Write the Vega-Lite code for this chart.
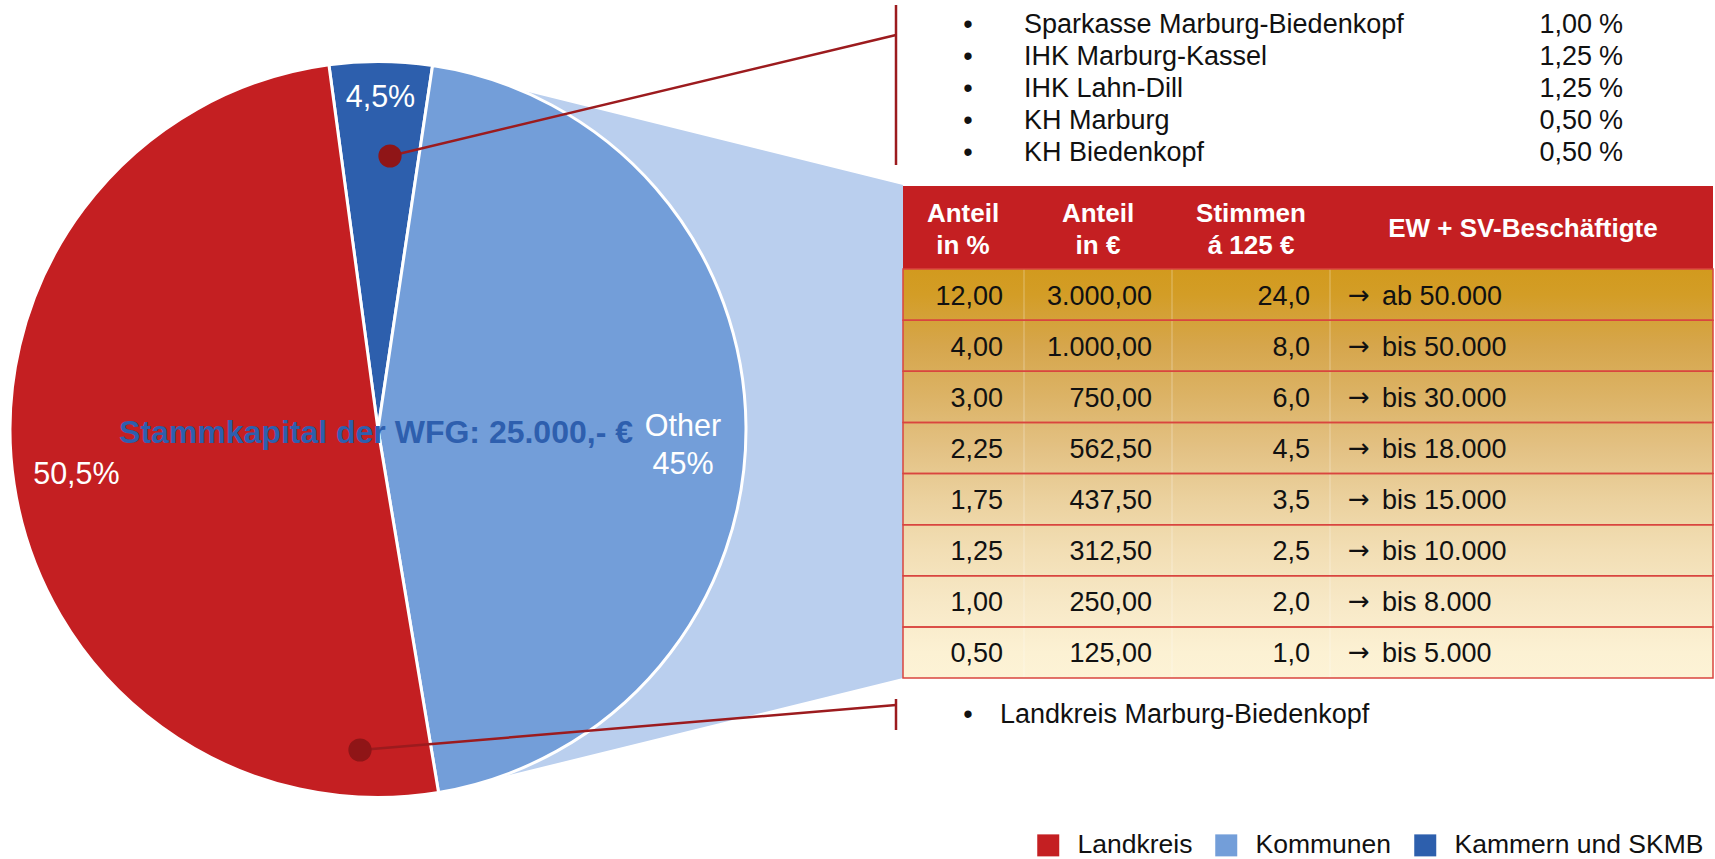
{
  "$schema": "https://vega.github.io/schema/vega-lite/v6.json",
  "width": 756,
  "height": 859,
  "autosize": {"type": "none"},
  "padding": {"left": 0, "top": 0, "right": 959, "bottom": 0},
  "background": "white",
  "config": {
    "view": {"stroke": null},
    "axis": {"disable": true},
    "font": "Liberation Sans",
    "locale": {"number": {"decimal": ",", "thousands": ".", "grouping": [3], "currency": ["", " €"]}}
  },
  "datasets": {
    "shares": [
      {"group": "Kammern und SKMB", "value": 4.5, "label": "4,5%"},
      {"group": "Kommunen", "value": 45, "label": "Other\n45%"},
      {"group": "Landkreis", "value": 50.5, "label": "50,5%"}
    ],
    "tiers": [
      {"pct": 12, "eur": 3000, "votes": 24, "ew": "ab 50.000"},
      {"pct": 4, "eur": 1000, "votes": 8, "ew": "bis 50.000"},
      {"pct": 3, "eur": 750, "votes": 6, "ew": "bis 30.000"},
      {"pct": 2.25, "eur": 562.5, "votes": 4.5, "ew": "bis 18.000"},
      {"pct": 1.75, "eur": 437.5, "votes": 3.5, "ew": "bis 15.000"},
      {"pct": 1.25, "eur": 312.5, "votes": 2.5, "ew": "bis 10.000"},
      {"pct": 1, "eur": 250, "votes": 2, "ew": "bis 8.000"},
      {"pct": 0.5, "eur": 125, "votes": 1, "ew": "bis 5.000"}
    ],
    "members": [
      {"name": "Sparkasse Marburg-Biedenkopf", "share": 1.0},
      {"name": "IHK Marburg-Kassel", "share": 1.25},
      {"name": "IHK Lahn-Dill", "share": 1.25},
      {"name": "KH Marburg", "share": 0.5},
      {"name": "KH Biedenkopf", "share": 0.5}
    ]
  },
  "resolve": {"scale": {"y": "independent"}},
  "layer": [
    {
      "layer": [
        {
          "data": {"values": [{}]},
          "mark": {"type": "point", "shape": "M-0.58875,-0.9075L0.58875,-0.615L0.58875,0.6175L-0.58875,0.9075Z", "size": 640000, "filled": true, "fill": "#BACFEE", "opacity": 1, "strokeWidth": 0},
          "encoding": {
            "x": {"datum": 667.5, "type": "quantitative", "scale": {"domain": [0, 756], "nice": false, "zero": false}},
            "y": {"datum": 431, "type": "quantitative", "scale": {"domain": [0, 859], "nice": false, "zero": false, "reverse": true}}
          }
        },
        {
          "data": {"name": "shares"},
          "mark": {"type": "arc", "outerRadius": 368, "stroke": "white", "strokeWidth": 3},
          "encoding": {
            "theta": {"field": "value", "type": "quantitative", "stack": true, "scale": {"range": [-0.13387, 6.14932]}},
            "order": {"field": "group", "type": "nominal", "sort": "ascending"},
            "color": {
              "field": "group", "type": "nominal",
              "scale": {"domain": ["Landkreis", "Kommunen", "Kammern und SKMB"], "range": ["#C41F22", "#739ED9", "#2D5FAD"]},
              "legend": {"orient": "none", "legendX": 1035, "legendY": 832, "direction": "horizontal", "title": null, "symbolType": "square", "symbolSize": 484, "symbolStrokeWidth": 0, "symbolOpacity": 1, "labelFontSize": 26.5, "labelFont": "Liberation Sans", "labelColor": "#111111", "labelOffset": 16, "columnPadding": 20, "labelLimit": 400, "padding": 0}
            }
          }
        },
        {
          "data": {"name": "shares"},
          "mark": {"type": "text", "radius": {"expr": "datum.group == 'Kammern und SKMB' ? 332 : 305"}, "fill": "white", "fontSize": 30.5, "lineBreak": "\n", "lineHeight": 38, "baseline": "middle", "align": "center"},
          "encoding": {
            "theta": {"field": "value", "type": "quantitative", "stack": true},
            "order": {"field": "group", "type": "nominal", "sort": "ascending"},
            "detail": {"field": "group", "type": "nominal"},
            "text": {"field": "label", "type": "nominal"}
          }
        },
        {
          "data": {"values": [{}]},
          "mark": {"type": "text", "fontSize": 32, "fontWeight": "bold", "fill": "#2E5FAE", "align": "center", "baseline": "alphabetic", "text": "Stammkapital der WFG: 25.000,- €"},
          "encoding": {"x": {"datum": 376, "type": "quantitative"}, "y": {"datum": 443, "type": "quantitative"}}
        },
        {
          "data": {"values": [{}]},
          "mark": {"type": "rule", "stroke": "#9C1B1E", "strokeWidth": 2.5},
          "encoding": {"x": {"datum": 390, "type": "quantitative"}, "y": {"datum": 156, "type": "quantitative"}, "x2": {"datum": 896}, "y2": {"datum": 35}}
        },
        {
          "data": {"values": [{}]},
          "mark": {"type": "rule", "stroke": "#9C1B1E", "strokeWidth": 2.5},
          "encoding": {"x": {"datum": 896, "type": "quantitative"}, "y": {"datum": 5, "type": "quantitative"}, "y2": {"datum": 165}}
        },
        {
          "data": {"values": [{}]},
          "mark": {"type": "rule", "stroke": "#9C1B1E", "strokeWidth": 2.5},
          "encoding": {"x": {"datum": 360, "type": "quantitative"}, "y": {"datum": 750, "type": "quantitative"}, "x2": {"datum": 896}, "y2": {"datum": 705}}
        },
        {
          "data": {"values": [{}]},
          "mark": {"type": "rule", "stroke": "#9C1B1E", "strokeWidth": 2.5},
          "encoding": {"x": {"datum": 896, "type": "quantitative"}, "y": {"datum": 699, "type": "quantitative"}, "y2": {"datum": 730}}
        },
        {
          "data": {"values": [{}]},
          "mark": {"type": "point", "shape": "circle", "size": 540, "filled": true, "fill": "#8F1517", "opacity": 1, "strokeWidth": 0},
          "encoding": {"x": {"datum": 390, "type": "quantitative"}, "y": {"datum": 156, "type": "quantitative"}}
        },
        {
          "data": {"values": [{}]},
          "mark": {"type": "point", "shape": "circle", "size": 540, "filled": true, "fill": "#8F1517", "opacity": 1, "strokeWidth": 0},
          "encoding": {"x": {"datum": 360, "type": "quantitative"}, "y": {"datum": 750, "type": "quantitative"}}
        },
        {
          "data": {"values": [{}]},
          "mark": {"type": "rect", "fill": {"gradient": "linear", "x1": 0, "y1": 0, "x2": 0, "y2": 1, "stops": [
            {"offset": 0, "color": "#D29A1E"},
            {"offset": 0.0625, "color": "#D39D26"},
            {"offset": 0.1875, "color": "#D6A64C"},
            {"offset": 0.3125, "color": "#DCB366"},
            {"offset": 0.4375, "color": "#E3C183"},
            {"offset": 0.5625, "color": "#EBD19E"},
            {"offset": 0.6875, "color": "#F2DEB4"},
            {"offset": 0.8125, "color": "#F7E8C6"},
            {"offset": 0.9375, "color": "#FCF1D3"},
            {"offset": 1, "color": "#FDF3D6"}
          ]}},
          "encoding": {"x": {"datum": 903, "type": "quantitative"}, "x2": {"datum": 1713}, "y": {"datum": 269, "type": "quantitative"}, "y2": {"datum": 678}}
        },
        {
          "data": {"values": [{}]},
          "mark": {"type": "rect", "fill": "#C41F22"},
          "encoding": {"x": {"datum": 903, "type": "quantitative"}, "x2": {"datum": 1713}, "y": {"datum": 186, "type": "quantitative"}, "y2": {"datum": 269}}
        },
        {
          "data": {"values": [{}]},
          "mark": {"type": "rule", "stroke": "white", "strokeOpacity": 0.35, "strokeWidth": 1},
          "encoding": {"x": {"datum": 1024, "type": "quantitative"}, "y": {"datum": 269, "type": "quantitative"}, "y2": {"datum": 678}}
        },
        {
          "data": {"values": [{}]},
          "mark": {"type": "rule", "stroke": "white", "strokeOpacity": 0.35, "strokeWidth": 1},
          "encoding": {"x": {"datum": 1172, "type": "quantitative"}, "y": {"datum": 269, "type": "quantitative"}, "y2": {"datum": 678}}
        },
        {
          "data": {"values": [{}]},
          "mark": {"type": "rule", "stroke": "white", "strokeOpacity": 0.35, "strokeWidth": 1},
          "encoding": {"x": {"datum": 1330, "type": "quantitative"}, "y": {"datum": 269, "type": "quantitative"}, "y2": {"datum": 678}}
        },
        {
          "data": {"values": [{}]},
          "mark": {"type": "text", "fontSize": 26, "fontWeight": "bold", "fill": "white", "align": "center", "baseline": "alphabetic", "lineHeight": 32, "text": ["Anteil", "in %"]},
          "encoding": {"x": {"datum": 963, "type": "quantitative"}, "y": {"datum": 222, "type": "quantitative"}}
        },
        {
          "data": {"values": [{}]},
          "mark": {"type": "text", "fontSize": 26, "fontWeight": "bold", "fill": "white", "align": "center", "baseline": "alphabetic", "lineHeight": 32, "text": ["Anteil", "in €"]},
          "encoding": {"x": {"datum": 1098, "type": "quantitative"}, "y": {"datum": 222, "type": "quantitative"}}
        },
        {
          "data": {"values": [{}]},
          "mark": {"type": "text", "fontSize": 26, "fontWeight": "bold", "fill": "white", "align": "center", "baseline": "alphabetic", "lineHeight": 32, "text": ["Stimmen", "á 125 €"]},
          "encoding": {"x": {"datum": 1251, "type": "quantitative"}, "y": {"datum": 222, "type": "quantitative"}}
        },
        {
          "data": {"values": [{}]},
          "mark": {"type": "text", "fontSize": 26, "fontWeight": "bold", "fill": "white", "align": "center", "baseline": "alphabetic", "text": "EW + SV-Beschäftigte"},
          "encoding": {"x": {"datum": 1523, "type": "quantitative"}, "y": {"datum": 237, "type": "quantitative"}}
        },
        {
          "data": {"values": [{}]},
          "mark": {"type": "text", "fontSize": 27, "fill": "#111111", "align": "center", "baseline": "alphabetic", "text": "•"},
          "encoding": {"x": {"datum": 968, "type": "quantitative"}, "y": {"datum": 723, "type": "quantitative"}}
        },
        {
          "data": {"values": [{}]},
          "mark": {"type": "text", "fontSize": 27, "fill": "#111111", "align": "left", "baseline": "alphabetic", "text": "Landkreis Marburg-Biedenkopf"},
          "encoding": {"x": {"datum": 1000, "type": "quantitative"}, "y": {"datum": 723, "type": "quantitative"}}
        }
      ]
    },
    {
      "data": {"name": "tiers"},
      "layer": [
        {
          "mark": {"type": "rect", "fillOpacity": 0, "stroke": "#D9453F", "strokeWidth": 1.5},
          "encoding": {
            "x": {"datum": 903, "type": "quantitative"}, "x2": {"datum": 1713},
            "y": {"field": "pct", "type": "ordinal", "sort": "descending", "scale": {"type": "band", "range": [269, 678], "paddingInner": 0, "paddingOuter": 0}}
          }
        },
        {
          "mark": {"type": "text", "fontSize": 27, "fill": "#111111", "align": "right", "baseline": "middle", "dy": 2},
          "encoding": {"x": {"datum": 1003, "type": "quantitative"}, "y": {"field": "pct", "type": "ordinal", "sort": "descending"}, "text": {"field": "pct", "type": "quantitative", "format": ".2f"}}
        },
        {
          "mark": {"type": "text", "fontSize": 27, "fill": "#111111", "align": "right", "baseline": "middle", "dy": 2},
          "encoding": {"x": {"datum": 1152, "type": "quantitative"}, "y": {"field": "pct", "type": "ordinal", "sort": "descending"}, "text": {"field": "eur", "type": "quantitative", "format": ",.2f"}}
        },
        {
          "mark": {"type": "text", "fontSize": 27, "fill": "#111111", "align": "right", "baseline": "middle", "dy": 2},
          "encoding": {"x": {"datum": 1310, "type": "quantitative"}, "y": {"field": "pct", "type": "ordinal", "sort": "descending"}, "text": {"field": "votes", "type": "quantitative", "format": ".1f"}}
        },
        {
          "mark": {"type": "text", "font": "DejaVu Sans", "fontSize": 26, "fill": "#111111", "align": "left", "baseline": "middle", "dy": 1, "text": "→"},
          "encoding": {"x": {"datum": 1348, "type": "quantitative"}, "y": {"field": "pct", "type": "ordinal", "sort": "descending"}}
        },
        {
          "mark": {"type": "text", "fontSize": 27, "fill": "#111111", "align": "left", "baseline": "middle", "dy": 2},
          "encoding": {"x": {"datum": 1382, "type": "quantitative"}, "y": {"field": "pct", "type": "ordinal", "sort": "descending"}, "text": {"field": "ew", "type": "nominal"}}
        }
      ]
    },
    {
      "data": {"name": "members"},
      "layer": [
        {
          "mark": {"type": "text", "fontSize": 27, "fill": "#111111", "align": "center", "baseline": "alphabetic", "text": "•"},
          "encoding": {"x": {"datum": 968, "type": "quantitative"}, "y": {"field": "name", "type": "nominal", "sort": null, "scale": {"type": "point", "range": [32.5, 160.5], "padding": 0}}}
        },
        {
          "mark": {"type": "text", "fontSize": 27, "fill": "#111111", "align": "left", "baseline": "alphabetic"},
          "encoding": {"x": {"datum": 1024, "type": "quantitative"}, "y": {"field": "name", "type": "nominal", "sort": null}, "text": {"field": "name", "type": "nominal"}}
        },
        {
          "mark": {"type": "text", "fontSize": 27, "fill": "#111111", "align": "right", "baseline": "alphabetic"},
          "encoding": {"x": {"datum": 1592, "type": "quantitative"}, "y": {"field": "name", "type": "nominal", "sort": null}, "text": {"field": "share", "type": "quantitative", "format": ".2f"}}
        },
        {
          "mark": {"type": "text", "fontSize": 27, "fill": "#111111", "align": "right", "baseline": "alphabetic", "text": "%"},
          "encoding": {"x": {"datum": 1623, "type": "quantitative"}, "y": {"field": "name", "type": "nominal", "sort": null}}
        }
      ]
    }
  ]
}
